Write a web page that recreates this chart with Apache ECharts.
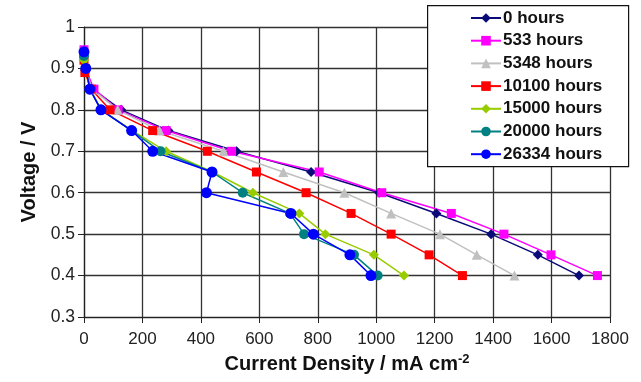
<!DOCTYPE html>
<html>
<head>
<meta charset="utf-8">
<script src="https://cdn.jsdelivr.net/npm/echarts@6/dist/echarts.min.js"></script>
<style>html,body{margin:0;padding:0;background:#fff;}#c{width:641px;height:382px;}</style>
</head>
<body>
<div id="c"></div>
<script>
// Data: [current density mA/cm2, voltage V]
const seriesNames = ['0 hours','533 hours','5348 hours','10100 hours','15000 hours','20000 hours','26334 hours'];
const h0 = [[0,0.94],[5,0.9],[30,0.85],[127,0.8],[289,0.75],[522,0.7],[777,0.65],[1010,0.6],[1206,0.55],[1393,0.5],[1553,0.45],[1694,0.4]];
const h533 = [[0,0.945],[5,0.9],[34,0.85],[117,0.8],[281,0.75],[505,0.7],[805,0.65],[1019,0.6],[1257,0.55],[1437,0.5],[1598,0.45],[1757,0.4]];
const h5348 = [[0,0.93],[4,0.9],[28,0.85],[115,0.8],[258,0.75],[477,0.7],[682,0.65],[891,0.6],[1051,0.55],[1218,0.5],[1344,0.45],[1473,0.4]];
const h10100 = [[0,0.92],[3,0.89],[25,0.85],[89,0.8],[235,0.75],[422,0.7],[590,0.65],[760,0.6],[914,0.55],[1051,0.5],[1181,0.45],[1295,0.4]];
const h15000 = [[0,0.92],[5,0.9],[20,0.85],[60,0.8],[165,0.75],[281,0.7],[440,0.65],[578,0.6],[737,0.55],[826,0.5],[992,0.45],[1095,0.4]];
const h20000 = [[0,0.93],[6,0.9],[20,0.85],[58,0.8],[163,0.75],[262,0.7],[438,0.65],[543,0.6],[705,0.55],[753,0.5],[924,0.45],[1005,0.4]];
const h26334 = [[0,0.94],[6,0.9],[20,0.85],[58,0.8],[163,0.75],[235,0.7],[438,0.65],[419,0.6],[708,0.55],[785,0.5],[910,0.45],[982,0.4]];
const xTicks = {min:0, max:1800, interval:200};
const yTicks = {min:0.3, max:1, interval:0.1};

const dataSets = [h0,h533,h5348,h10100,h15000,h20000,h26334];
const colors = ['#0a0a78','#ff00ff','#c0c0c0','#ff0000','#99cc00','#008080','#0000ff'];
const symbols = ['diamond','rect','triangle','rect','diamond','circle','circle'];
const sizes = [10,9,10,9,10,10,11];

const chart = echarts.init(document.getElementById('c'), null, {renderer:'canvas'});
const font = '"Liberation Sans", Arial, Helvetica, sans-serif';
chart.setOption({
  animation:false,
  backgroundColor:'#fff',
  grid:{left:84, right:31, top:27, bottom:65, containLabel:false},
  xAxis:{
    type:'value', min:xTicks.min, max:xTicks.max, interval:xTicks.interval,
    axisLine:{show:true, onZero:false, lineStyle:{color:'#222', width:1.2}},
    axisTick:{show:true, length:6, lineStyle:{color:'#222'}},
    splitLine:{show:true, lineStyle:{color:'#333', width:1.3}},
    axisLabel:{fontFamily:font, fontSize:17, color:'#222', margin:14, formatter:v=>String(v)},
    name:'Current Density / mA cm{sup|-2}',
    nameLocation:'middle', nameGap:36,
    nameTextStyle:{fontFamily:font, fontSize:20, fontWeight:'bold', color:'#111',
      rich:{sup:{fontFamily:font, fontSize:13, fontWeight:'bold', color:'#111', verticalAlign:'top', padding:[0,0,10,0]}}}
  },
  yAxis:{
    type:'value', min:yTicks.min, max:yTicks.max, interval:yTicks.interval,
    axisLine:{show:true, onZero:false, lineStyle:{color:'#222', width:1.2}},
    axisTick:{show:true, length:6, lineStyle:{color:'#222'}},
    splitLine:{show:true, lineStyle:{color:'#333', width:1.3}},
    axisLabel:{fontFamily:font, fontSize:17.5, color:'#222', margin:9,
      formatter:v=>String(+v.toFixed(1))},
    name:'Voltage / V', nameLocation:'middle', nameGap:45,
    nameTextStyle:{fontFamily:font, fontSize:20, fontWeight:'bold', color:'#111'}
  },
  graphic:[{type:'rect', left:427, top:5, z:100, shape:{width:201, height:161},
    style:{fill:'#fff', stroke:'#111', lineWidth:1.2}}],
  legend:{
    orient:'vertical', left:470, top:9.5, z:110, padding:0,
    itemWidth:30, itemHeight:12, itemGap:5.7,
    textStyle:{fontFamily:font, fontSize:17, lineHeight:17, fontWeight:'bold', color:'#111', padding:[0,0,0,-3]},
    data:seriesNames
  },
  series:dataSets.map((d,i)=>({
    name:seriesNames[i], type:'line', data:d,
    symbol:symbols[i], symbolSize:sizes[i],
    lineStyle:{color:colors[i], width:1.5},
    itemStyle:{color:colors[i]},
    emphasis:{disabled:true}
  }))
});
</script>
</body>
</html>
